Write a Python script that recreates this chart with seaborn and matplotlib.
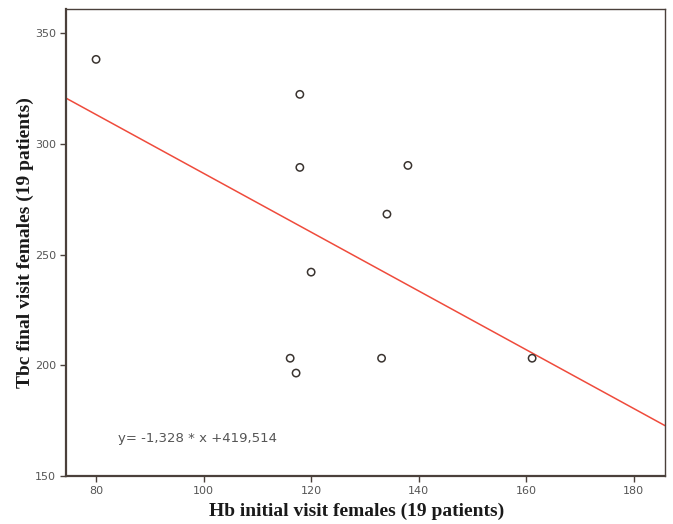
import numpy as np
import pandas as pd
import matplotlib
matplotlib.use('Agg')
import matplotlib.pyplot as plt
import seaborn as sns

# ------------------------------------------------------------
# Data
# ------------------------------------------------------------
hb_initial = [80.0, 117.9, 117.9, 138.0, 134.1, 120.0, 116.1, 117.2, 133.1, 161.1]
tbc_final = [338.2, 322.4, 289.4, 290.3, 268.3, 242.1, 203.2, 196.5, 203.2, 203.2]

slope = -1.328
intercept = 419.514
equation_text = "y= -1,328 * x +419,514"

x_ticks = [80, 100, 120, 140, 160, 180]
y_ticks = [150, 200, 250, 300, 350]
x_lim = (74.4, 185.8)
y_lim = (150, 361)

df = pd.DataFrame({'Hb': hb_initial, 'Tbc': tbc_final})

sns.set_style('white')
plt.rcParams['font.family'] = ['DejaVu Sans']

fig = plt.figure(figsize=(6.73, 5.24), dpi=100)
ax = fig.add_axes([0.098, 0.0916, 0.890, 0.8914])

# fit line across the full x range
line_x = np.array(x_lim)
line_df = pd.DataFrame({'x': line_x, 'y': slope * line_x + intercept})
sns.lineplot(data=line_df, x='x', y='y', color='#ef4b3c', linewidth=1.1, ax=ax)

sns.scatterplot(data=df, x='Hb', y='Tbc', marker='o', s=28,
                facecolors='none', edgecolor='#3a3430', linewidth=1.1,
                ax=ax, zorder=3)

ax.set_xlim(*x_lim)
ax.set_ylim(*y_lim)
ax.set_xticks(x_ticks)
ax.set_yticks(y_ticks)
ax.tick_params(axis='both', direction='out', length=4, width=1,
               color='#4a403b', labelsize=8, labelcolor='#555555', pad=3,
               bottom=True, left=True)

for side in ['left', 'right', 'top', 'bottom']:
    ax.spines[side].set_visible(True)
    ax.spines[side].set_color('#4a403b')
ax.spines['left'].set_linewidth(1.6)
ax.spines['bottom'].set_linewidth(1.6)
ax.spines['top'].set_linewidth(1.0)
ax.spines['right'].set_linewidth(1.0)

ax.text(84.0, 167, equation_text, fontsize=9.5, color='#555555',
        va='center', ha='left')

label_font = dict(family='Liberation Serif', fontweight='bold', fontsize=14,
                  color='#1a1a1a')
ax.set_xlabel('Hb initial visit females (19 patients)', labelpad=5,
              x=0.486, **label_font)
ax.set_ylabel('Tbc final visit females (19 patients)', labelpad=1, **label_font)

fig.savefig('out.png', dpi=100)
plt.close(fig)
